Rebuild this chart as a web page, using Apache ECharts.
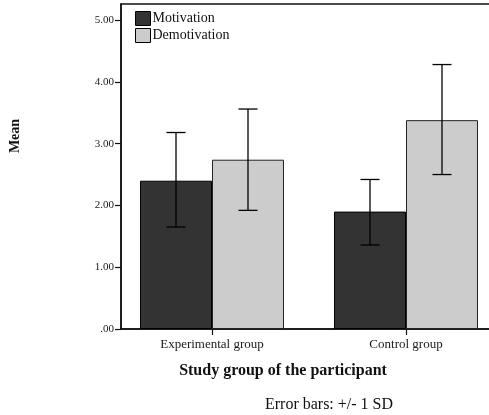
<!DOCTYPE html>
<html><head><meta charset="utf-8">
<script src="https://cdn.jsdelivr.net/npm/echarts@6/dist/echarts.min.js"></script>
<style>html,body{margin:0;padding:0;background:#fff}#c{width:489px;height:415px}</style>
</head><body><div id="c"></div>
<script>
var categories = ['Experimental group', 'Control group'];
var seriesNames = ['Motivation', 'Demotivation'];
var motivationMean = [2.40, 1.90];
var motivationLow = [1.65, 1.36];
var motivationHigh = [3.18, 2.42];
var demotivationMean = [2.74, 3.38];
var demotivationLow = [1.92, 2.50];
var demotivationHigh = [3.56, 4.28];
var yTicks = [0, 1, 2, 3, 4, 5];

var BAR_W = 72;
var SERIF = '"Liberation Serif", "DejaVu Serif", serif';

function barData(arr){ return arr.map(function(v,i){ return [i, v]; }); }
function errData(lo, hi){ return lo.map(function(v,i){ return [i, v, hi[i]]; }); }

function errRender(shift){
  return function(params, api){
    var x = api.value(0);
    var lo = api.coord([x, api.value(1)]);
    var hi = api.coord([x, api.value(2)]);
    var cx = lo[0] + shift;
    var cap = 9.5;
    var st = {stroke:'#000', lineWidth:1.3};
    return {type:'group', children:[
      {type:'line', shape:{x1:cx, y1:lo[1], x2:cx, y2:hi[1]}, style:st},
      {type:'line', shape:{x1:cx-cap, y1:lo[1], x2:cx+cap, y2:lo[1]}, style:st},
      {type:'line', shape:{x1:cx-cap, y1:hi[1], x2:cx+cap, y2:hi[1]}, style:st}
    ]};
  };
}

var chart = echarts.init(document.getElementById('c'), null, {renderer:'canvas'});
chart.setOption({
  animation:false,
  backgroundColor:'#fff',
  grid:{left:121, right:-20, top:4, bottom:86, containLabel:false, outerBoundsMode:'none',
    show:true, borderColor:'#111', borderWidth:1.5, backgroundColor:'transparent'},
  legend:{
    orient:'vertical', left:130, top:6, itemWidth:15, itemHeight:14, itemGap:2, icon:'rect',
    data: seriesNames,
    textStyle:{fontFamily:SERIF, fontSize:14, color:'#111', padding:[0,0,0,-3]},
    itemStyle:{borderColor:'#000', borderWidth:1}
  },
  xAxis:{
    type:'value', min:-0.46907, max:1.53093,
    splitLine:{show:false},
    axisLine:{onZero:false, lineStyle:{color:'#111', width:1.5}},
    axisTick:{customValues:[0,1], length:6, lineStyle:{color:'#111', width:1.2}},
    axisLabel:{customValues:[0,1], formatter:function(v){ return categories[Math.round(v)]; },
      fontFamily:SERIF, fontSize:13, color:'#1a1a1a', margin:9}
  },
  yAxis:{
    type:'value', min:0, max:5.26,
    splitLine:{show:false},
    axisLine:{show:true, onZero:false, lineStyle:{color:'#111', width:1.5}},
    axisTick:{show:true, customValues:yTicks, length:6, lineStyle:{color:'#111', width:1.2}},
    axisLabel:{customValues:yTicks, formatter:function(v){ return v === 0 ? '.00' : v.toFixed(2); },
      fontFamily:SERIF, fontSize:11, color:'#1a1a1a', margin:7}
  },
  graphic:[
    {type:'text', x:283, y:371, style:{text:'Study group of the participant', font:'bold 16px ' + SERIF, fill:'#111', textAlign:'center', textVerticalAlign:'middle'}},
    {type:'text', x:15, y:136, rotation:Math.PI/2, style:{text:'Mean', font:'bold 14px ' + SERIF, fill:'#111', textAlign:'center', textVerticalAlign:'middle'}},
    {type:'text', x:329, y:405, style:{text:'Error bars: +/- 1 SD', font:'16px ' + SERIF, fill:'#111', textAlign:'center', textVerticalAlign:'middle'}}
  ],
  series:[
    {name:seriesNames[0], type:'bar', barWidth:BAR_W, barGap:'0%', data:barData(motivationMean),
      itemStyle:{color:'#333333', borderColor:'#000', borderWidth:1}},
    {name:seriesNames[1], type:'bar', barWidth:BAR_W, barGap:'0%', data:barData(demotivationMean),
      itemStyle:{color:'#cccccc', borderColor:'#222', borderWidth:1}},
    {type:'custom', renderItem:errRender(-BAR_W/2), data:errData(motivationLow, motivationHigh), z:10, silent:true},
    {type:'custom', renderItem:errRender(BAR_W/2), data:errData(demotivationLow, demotivationHigh), z:10, silent:true}
  ]
});
</script></body></html>
